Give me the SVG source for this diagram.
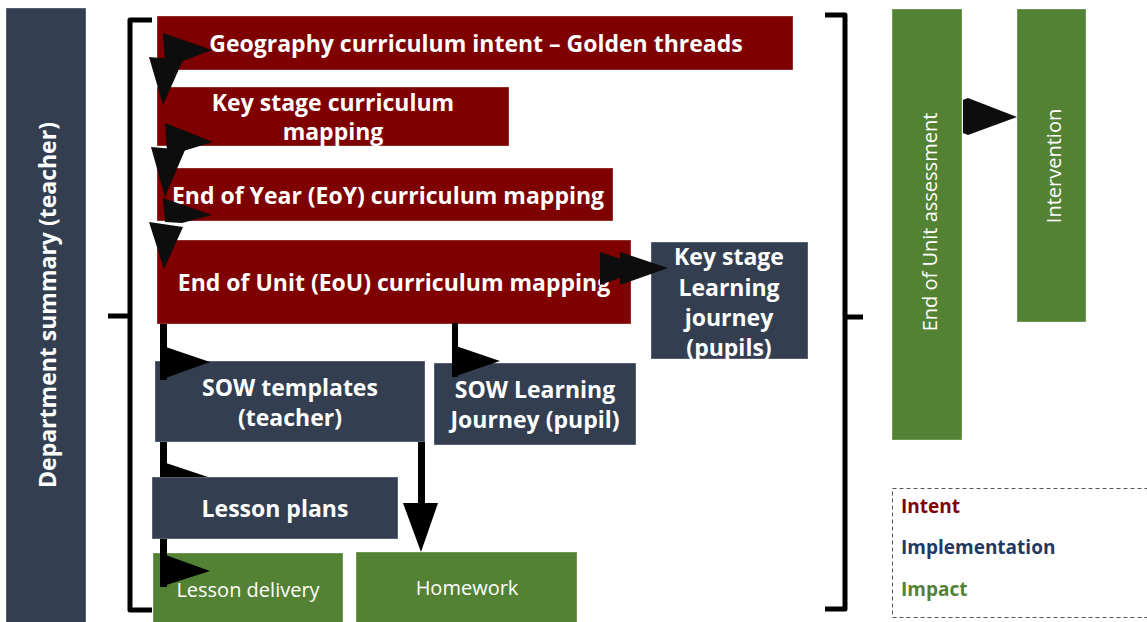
<svg xmlns="http://www.w3.org/2000/svg" width="1147" height="622" viewBox="0 0 1147 622">
  <style>
    .intent { fill: #7f0000; }
    .impl { fill: #333f50; }
    .impact { fill: #548235; }
    .box { stroke: #ffffff; stroke-opacity: 0.35; stroke-width: 1; }
    .lbl { font-family: "Open Sans", "Liberation Sans", sans-serif; font-weight: 700; font-size: 23px; fill: #ffffff; text-anchor: middle; }
    .lbl-r { font-family: "Open Sans", "Liberation Sans", sans-serif; font-weight: 400; font-size: 20px; fill: #ffffff; text-anchor: middle; }
    .key { font-family: "Open Sans", "Liberation Sans", sans-serif; font-weight: 700; font-size: 19px; }
    .brace { fill: none; stroke: #000000; stroke-width: 5; stroke-linejoin: round; }
    .head { fill: #0d0d0d; }
    .bar { fill: #000000; }
  </style>

  <!-- side panel -->
  <g id="department-summary">
    <rect class="impl box" x="6" y="8" width="80" height="620"/>
    <text class="lbl" font-size="28.5" transform="translate(56,305) rotate(-90)">Department summary (teacher)</text>
  </g>

  <!-- braces -->
  <g id="braces">
    <path class="brace" d="M152,20 H130 V316 H108 M130,316 V610 H152"/>
    <path class="brace" d="M825,15 H845 V317 H863 M845,317 V609 H825"/>
  </g>

  <!-- intent -->
  <g id="golden-threads">
    <rect class="intent box" x="157" y="16" width="636" height="54"/>
    <text class="lbl" x="476" y="52">Geography curriculum intent – Golden threads</text>
  </g>
  <g id="key-stage-mapping">
    <rect class="intent box" x="157" y="87" width="352" height="59"/>
    <text class="lbl" x="333" y="111">Key stage curriculum</text>
    <text class="lbl" x="333" y="140">mapping</text>
  </g>
  <g id="eoy-mapping">
    <rect class="intent box" x="157" y="168" width="456" height="53"/>
    <text class="lbl" x="388" y="204">End of Year (EoY) curriculum mapping</text>
  </g>
  <g id="eou-mapping">
    <rect class="intent box" x="157" y="240" width="474" height="84"/>
    <text class="lbl" x="394" y="291">End of Unit (EoU) curriculum mapping</text>
  </g>

  <!-- implementation -->
  <g id="ks-learning-journey">
    <rect class="impl box" x="651" y="242" width="157" height="117"/>
    <text class="lbl" x="729" y="265">Key stage</text>
    <text class="lbl" x="729" y="296">Learning</text>
    <text class="lbl" x="729" y="326">journey</text>
    <text class="lbl" x="729" y="356">(pupils)</text>
  </g>
  <g id="sow-templates">
    <rect class="impl box" x="155" y="361" width="270" height="81"/>
    <text class="lbl" x="290" y="396">SOW templates</text>
    <text class="lbl" x="290" y="426">(teacher)</text>
  </g>
  <g id="sow-learning-journey">
    <rect class="impl box" x="434" y="363" width="202" height="82"/>
    <text class="lbl" x="535" y="398">SOW Learning</text>
    <text class="lbl" x="535" y="428">Journey (pupil)</text>
  </g>
  <g id="lesson-plans">
    <rect class="impl box" x="152" y="477" width="246" height="62"/>
    <text class="lbl" x="275" y="517">Lesson plans</text>
  </g>

  <!-- impact -->
  <g id="lesson-delivery">
    <rect class="impact box" x="153" y="553" width="190" height="75"/>
    <text class="lbl-r" x="248" y="597">Lesson delivery</text>
  </g>
  <g id="homework">
    <rect class="impact box" x="356" y="552" width="221" height="76"/>
    <text class="lbl-r" x="467" y="595">Homework</text>
  </g>
  <g id="eou-assessment">
    <rect class="impact box" x="892" y="9" width="70" height="431"/>
    <text class="lbl-r" transform="translate(937,222) rotate(-90)">End of Unit assessment</text>
  </g>
  <g id="intervention">
    <rect class="impact box" x="1017" y="9" width="69" height="313"/>
    <text class="lbl-r" transform="translate(1061,166) rotate(-90)">Intervention</text>
  </g>

  <!-- key -->
  <g id="key">
    <rect x="892.5" y="488.5" width="270" height="129" fill="#ffffff" stroke="#555555" stroke-width="1" stroke-dasharray="4,3"/>
    <text class="key" x="901" y="513" fill="#7f0000">Intent</text>
    <text class="key" x="901" y="554" fill="#1f3864">Implementation</text>
    <text class="key" x="901" y="596" fill="#548235">Impact</text>
  </g>

  <!-- connectors -->
  <g id="connectors">
    <!-- intent cascade -->
    <polygon class="head" points="163,33 212,50 178,63 165,62"/>
    <polygon class="head" points="149,57 183,60 163,105"/>
    <polygon class="head" points="165,123 213,142 180,152 167,151"/>
    <polygon class="head" points="151,147 185,150 165,197"/>
    <polygon class="head" points="163,198 212,215 182,223 165,222"/>
    <polygon class="head" points="149,222 183,227 164,269"/>

    <!-- EoU -> SOW templates -->
    <rect class="bar" x="160" y="324" width="7" height="56"/>
    <polygon class="bar" points="160,345 210,362 160,380"/>
    <!-- SOW templates -> lesson plans -->
    <rect class="bar" x="160" y="442" width="7" height="35"/>
    <polygon class="bar" points="160,461 208,477 160,477"/>
    <!-- lesson plans -> lesson delivery -->
    <rect class="bar" x="160" y="539" width="7" height="48"/>
    <polygon class="bar" points="160,553 210,571 160,587"/>
    <!-- SOW templates -> homework -->
    <rect class="bar" x="418" y="442" width="7" height="62"/>
    <polygon class="bar" points="403,503 438,503 421,552"/>
    <!-- EoU -> SOW learning journey -->
    <rect class="bar" x="452" y="323" width="6" height="54"/>
    <polygon class="bar" points="453,345 500,361 453,377"/>
    <!-- EoU -> key stage learning journey -->
    <polygon class="head" points="600,252 648,268 600,285"/>
    <polygon class="head" points="620,252 668,268 620,285"/>
    <!-- assessment -> intervention -->
    <polygon class="head" points="963,100 968,98 1017,117 968,135 963,133"/>
  </g>
</svg>
